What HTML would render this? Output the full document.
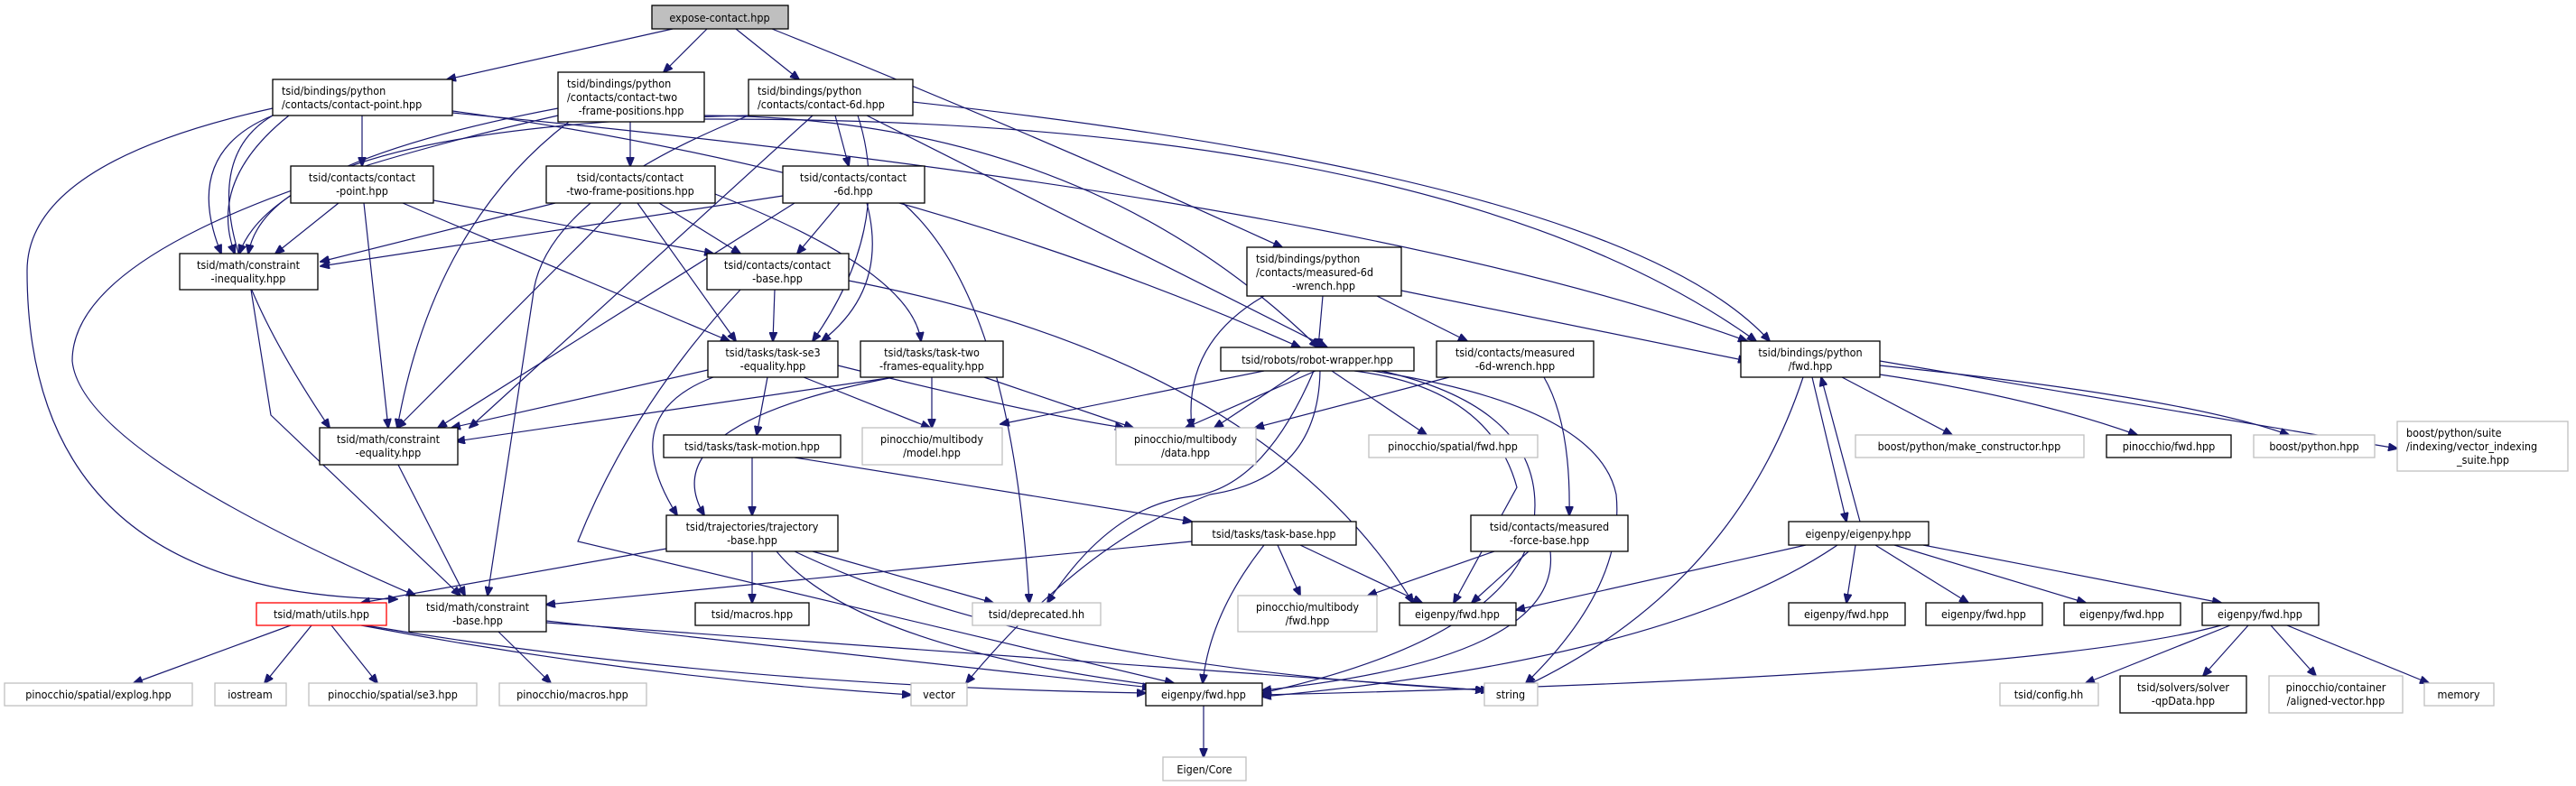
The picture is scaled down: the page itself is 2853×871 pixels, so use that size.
<!DOCTYPE html>
<html><head><meta charset="utf-8"><style>
html,body{margin:0;padding:0;background:#fff;}
svg{display:block;}
text{font-family:"DejaVu Sans Condensed","DejaVu Sans","Liberation Sans",sans-serif;font-size:12.5px;fill:#000;}
.e{fill:none;stroke:#191970;stroke-width:1.2;}
.n{fill:#fff;stroke:#000;stroke-width:1.3;}
.g{fill:#fff;stroke:#bfbfbf;stroke-width:1.3;}
.r{fill:#fff;stroke:#ff0000;stroke-width:1.3;}
</style></head><body>
<svg width="2853" height="871" viewBox="0 0 2853 871" xmlns="http://www.w3.org/2000/svg">
<defs><marker id="a" markerWidth="11" markerHeight="9" refX="10" refY="4.5" orient="auto" markerUnits="userSpaceOnUse"><path d="M0,0 L11,4.5 L0,9 z" fill="#191970" stroke="#191970"/></marker></defs>
<g marker-end="url(#a)">
<!-- expose -->
<path class="e" d="M745,32 L495,88"/>
<path class="e" d="M783,32 L735,80"/>
<path class="e" d="M815,32 L885,88"/>
<path class="e" d="M855,32 Q1150,150 1420,274"/>
<!-- bp contact-point -->
<path class="e" d="M401,128 L401,184"/>
<path class="e" d="M302,128 Q200,170 245,281"/>
<path class="e" d="M302,128 Q180,200 365,474"/>
<path class="e" d="M302,120 Q30,180 30,300 Q30,660 440,664"/>
<path class="e" d="M320,128 Q230,200 260,281"/>
<path class="e" d="M501,123 Q1000,190 1440,385"/>
<path class="e" d="M501,125 Q1500,220 1935,378"/>
<!-- bp two-frame -->
<path class="e" d="M698,135 L698,184"/>
<path class="e" d="M618,120 Q300,180 265,281"/>
<path class="e" d="M630,135 Q480,250 440,474"/>
<path class="e" d="M618,128 Q80,250 80,400 Q90,500 460,660"/>
<path class="e" d="M780,128 Q1200,130 1460,385"/>
<path class="e" d="M780,132 Q1600,130 1945,378"/>
<!-- bp 6d -->
<path class="e" d="M925,128 L940,184"/>
<path class="e" d="M829,128 Q600,220 590,330 L540,660"/>
<path class="e" d="M900,128 L520,474"/>
<path class="e" d="M950,128 Q990,250 900,378"/>
<path class="e" d="M829,128 Q300,140 275,281"/>
<path class="e" d="M960,128 Q1200,250 1470,385"/>
<path class="e" d="M1011,113 Q1800,200 1960,378"/>
<!-- contacts/contact-point -->
<path class="e" d="M375,225 L305,281"/>
<path class="e" d="M403,225 L430,474"/>
<path class="e" d="M480,222 L790,281"/>
<path class="e" d="M446,225 L808,378"/>
<!-- contacts two-frame -->
<path class="e" d="M615,225 L355,290"/>
<path class="e" d="M688,225 L440,474"/>
<path class="e" d="M730,225 L820,281"/>
<path class="e" d="M706,225 L815,378"/>
<path class="e" d="M792,215 Q1010,300 1020,378"/>
<!-- contacts 6d -->
<path class="e" d="M867,217 L355,295"/>
<path class="e" d="M880,225 L485,474"/>
<path class="e" d="M930,225 L883,281"/>
<path class="e" d="M960,225 Q985,320 910,378"/>
<path class="e" d="M1000,225 Q1120,330 1140,668"/>
<!-- inequality -->
<path class="e" d="M278,321 L300,460 L510,660"/>
<!-- equality -->
<path class="e" d="M441,515 L515,660"/>
<!-- contact base -->
<path class="e" d="M858,321 L856,378"/>
<path class="e" d="M820,321 Q700,450 640,600 L1300,757"/>
<path class="e" d="M940,311 Q1400,400 1565,668"/>
<!-- task-se3 -->
<path class="e" d="M784,410 L500,474"/>
<path class="e" d="M850,418 L838,482"/>
<path class="e" d="M790,418 Q680,460 750,571"/>
<path class="e" d="M928,405 Q1150,460 1245,474"/>
<path class="e" d="M890,418 L1030,474"/>
<!-- task-two -->
<path class="e" d="M990,418 L505,489"/>
<path class="e" d="M1032,418 L1032,474"/>
<path class="e" d="M990,418 Q720,470 780,571"/>
<path class="e" d="M1090,418 L1255,474"/>
<!-- robot wrapper -->
<path class="e" d="M1400,411 L1108,470"/>
<path class="e" d="M1440,411 L1345,474"/>
<path class="e" d="M1457,411 L1313,474"/>
<path class="e" d="M1475,411 L1580,482"/>
<path class="e" d="M1455,411 Q1400,540 1320,550 Q1230,560 1160,668"/>
<path class="e" d="M1462,411 Q1460,530 1340,548 Q1200,600 1070,757"/>
<path class="e" d="M1530,411 Q1700,450 1700,560 Q1700,700 1398,768"/>
<path class="e" d="M1520,411 Q1770,450 1790,548 Q1800,650 1690,757"/>
<path class="e" d="M1500,411 Q1650,430 1680,540 L1610,668"/>
<!-- bp measured -->
<path class="e" d="M1465,328 L1460,385"/>
<path class="e" d="M1525,328 L1625,378"/>
<path class="e" d="M1552,322 L1935,400"/>
<path class="e" d="M1400,328 Q1310,380 1320,474"/>
<!-- meas 6d wrench -->
<path class="e" d="M1605,418 L1390,474"/>
<path class="e" d="M1710,418 Q1740,470 1738,571"/>
<!-- mfb -->
<path class="e" d="M1655,611 L1515,660"/>
<path class="e" d="M1693,611 L1630,668"/>
<path class="e" d="M1717,611 Q1730,730 1398,765"/>
<!-- task motion -->
<path class="e" d="M833,507 L833,571"/>
<path class="e" d="M880,507 L1320,578"/>
<!-- trajectory -->
<path class="e" d="M738,608 L400,668"/>
<path class="e" d="M833,611 L833,668"/>
<path class="e" d="M900,611 L1100,668"/>
<path class="e" d="M860,611 Q950,720 1300,762"/>
<path class="e" d="M880,611 Q1150,740 1650,765"/>
<!-- task base -->
<path class="e" d="M1320,600 L605,670"/>
<path class="e" d="M1415,604 L1440,660"/>
<path class="e" d="M1440,604 L1575,668"/>
<path class="e" d="M1400,604 Q1340,680 1332,757"/>
<!-- utils -->
<path class="e" d="M322,693 L148,757"/>
<path class="e" d="M345,693 L293,757"/>
<path class="e" d="M367,693 L418,757"/>
<path class="e" d="M400,693 Q700,750 1009,770"/>
<path class="e" d="M405,693 Q800,760 1269,768"/>
<!-- cbase -->
<path class="e" d="M552,700 L610,757"/>
<path class="e" d="M605,688 L1275,762"/>
<path class="e" d="M605,690 L1644,765"/>
<!-- bp fwd -->
<path class="e" d="M2040,418 L2162,482"/>
<path class="e" d="M2082,415 Q2250,440 2367,482"/>
<path class="e" d="M2082,405 Q2420,440 2535,482"/>
<path class="e" d="M2082,400 L2655,497"/>
<path class="e" d="M2007,418 L2045,578"/>
<path class="e" d="M1997,418 Q1920,650 1690,760"/>
<!-- eigenpy.hpp -->
<path class="e" d="M2060,578 L2017,418"/>
<path class="e" d="M2055,604 L2045,668"/>
<path class="e" d="M2077,604 L2180,668"/>
<path class="e" d="M2098,604 L2310,668"/>
<path class="e" d="M2130,604 L2460,668"/>
<path class="e" d="M2000,604 L1679,676"/>
<path class="e" d="M2035,604 Q1850,730 1398,772"/>
<!-- last eigenpy fwd -->
<path class="e" d="M2470,693 L2310,757"/>
<path class="e" d="M2490,693 L2440,749"/>
<path class="e" d="M2515,693 L2565,749"/>
<path class="e" d="M2533,693 L2690,757"/>
<path class="e" d="M2460,693 Q2250,750 1398,770"/>
<!-- eigenpy fwd bottom -->
<path class="e" d="M1333,782 L1333,839"/>
</g>
<!-- nodes -->
<rect x="722" y="6" width="151" height="26" fill="#bfbfbf" stroke="#000" stroke-width="1.3"/><text x="797" y="24" text-anchor="middle">expose-contact.hpp</text>
<rect class="n" x="302" y="88" width="199" height="40"/><text x="312" y="105">tsid/bindings/python</text><text x="312" y="120">/contacts/contact-point.hpp</text>
<rect class="n" x="618" y="80" width="162" height="55"/><text x="628" y="97">tsid/bindings/python</text><text x="628" y="112">/contacts/contact-two</text><text x="699" y="127" text-anchor="middle">-frame-positions.hpp</text>
<rect class="n" x="829" y="88" width="182" height="40"/><text x="839" y="105">tsid/bindings/python</text><text x="839" y="120">/contacts/contact-6d.hpp</text>
<rect class="n" x="322" y="184" width="158" height="41"/><text x="401" y="201" text-anchor="middle">tsid/contacts/contact</text><text x="401" y="216" text-anchor="middle">-point.hpp</text>
<rect class="n" x="605" y="184" width="187" height="41"/><text x="698" y="201" text-anchor="middle">tsid/contacts/contact</text><text x="698" y="216" text-anchor="middle">-two-frame-positions.hpp</text>
<rect class="n" x="867" y="184" width="157" height="41"/><text x="945" y="201" text-anchor="middle">tsid/contacts/contact</text><text x="945" y="216" text-anchor="middle">-6d.hpp</text>
<rect class="n" x="199" y="281" width="153" height="40"/><text x="275" y="298" text-anchor="middle">tsid/math/constraint</text><text x="275" y="313" text-anchor="middle">-inequality.hpp</text>
<rect class="n" x="783" y="281" width="157" height="40"/><text x="861" y="298" text-anchor="middle">tsid/contacts/contact</text><text x="861" y="313" text-anchor="middle">-base.hpp</text>
<rect class="n" x="1381" y="274" width="171" height="54"/><text x="1391" y="291">tsid/bindings/python</text><text x="1391" y="306">/contacts/measured-6d</text><text x="1466" y="321" text-anchor="middle">-wrench.hpp</text>
<rect class="n" x="784" y="378" width="144" height="40"/><text x="856" y="395" text-anchor="middle">tsid/tasks/task-se3</text><text x="856" y="410" text-anchor="middle">-equality.hpp</text>
<rect class="n" x="953" y="378" width="158" height="40"/><text x="1032" y="395" text-anchor="middle">tsid/tasks/task-two</text><text x="1032" y="410" text-anchor="middle">-frames-equality.hpp</text>
<rect class="n" x="1352" y="385" width="214" height="26"/><text x="1459" y="403" text-anchor="middle">tsid/robots/robot-wrapper.hpp</text>
<rect class="n" x="1591" y="378" width="174" height="40"/><text x="1678" y="395" text-anchor="middle">tsid/contacts/measured</text><text x="1678" y="410" text-anchor="middle">-6d-wrench.hpp</text>
<rect class="n" x="1928" y="378" width="154" height="40"/><text x="2005" y="395" text-anchor="middle">tsid/bindings/python</text><text x="2005" y="410" text-anchor="middle">/fwd.hpp</text>
<rect class="n" x="354" y="474" width="153" height="41"/><text x="430" y="491" text-anchor="middle">tsid/math/constraint</text><text x="430" y="506" text-anchor="middle">-equality.hpp</text>
<rect class="g" x="955" y="474" width="155" height="41"/><text x="1032" y="491" text-anchor="middle">pinocchio/multibody</text><text x="1032" y="506" text-anchor="middle">/model.hpp</text>
<rect class="g" x="1236" y="474" width="155" height="41"/><text x="1313" y="491" text-anchor="middle">pinocchio/multibody</text><text x="1313" y="506" text-anchor="middle">/data.hpp</text>
<rect class="n" x="735" y="482" width="196" height="25"/><text x="833" y="499" text-anchor="middle">tsid/tasks/task-motion.hpp</text>
<rect class="g" x="1516" y="482" width="187" height="25"/><text x="1609" y="499" text-anchor="middle">pinocchio/spatial/fwd.hpp</text>
<rect class="g" x="2055" y="482" width="253" height="25"/><text x="2181" y="499" text-anchor="middle">boost/python/make_constructor.hpp</text>
<rect class="n" x="2333" y="482" width="138" height="25"/><text x="2402" y="499" text-anchor="middle">pinocchio/fwd.hpp</text>
<rect class="g" x="2496" y="482" width="134" height="25"/><text x="2563" y="499" text-anchor="middle">boost/python.hpp</text>
<rect class="g" x="2655" y="467" width="189" height="55"/><text x="2665" y="484">boost/python/suite</text><text x="2665" y="499">/indexing/vector_indexing</text><text x="2750" y="514" text-anchor="middle">_suite.hpp</text>
<rect class="n" x="738" y="571" width="190" height="40"/><text x="833" y="588" text-anchor="middle">tsid/trajectories/trajectory</text><text x="833" y="603" text-anchor="middle">-base.hpp</text>
<rect class="n" x="1320" y="578" width="182" height="26"/><text x="1411" y="596" text-anchor="middle">tsid/tasks/task-base.hpp</text>
<rect class="n" x="1629" y="571" width="174" height="40"/><text x="1716" y="588" text-anchor="middle">tsid/contacts/measured</text><text x="1716" y="603" text-anchor="middle">-force-base.hpp</text>
<rect class="n" x="1981" y="578" width="155" height="26"/><text x="2058" y="596" text-anchor="middle">eigenpy/eigenpy.hpp</text>
<rect class="r" x="284" y="668" width="144" height="25"/><text x="356" y="685" text-anchor="middle">tsid/math/utils.hpp</text>
<rect class="n" x="453" y="660" width="152" height="40"/><text x="529" y="677" text-anchor="middle">tsid/math/constraint</text><text x="529" y="692" text-anchor="middle">-base.hpp</text>
<rect class="n" x="770" y="668" width="126" height="25"/><text x="833" y="685" text-anchor="middle">tsid/macros.hpp</text>
<rect class="g" x="1077" y="668" width="142" height="25"/><text x="1148" y="685" text-anchor="middle">tsid/deprecated.hh</text>
<rect class="g" x="1371" y="660" width="154" height="40"/><text x="1448" y="677" text-anchor="middle">pinocchio/multibody</text><text x="1448" y="692" text-anchor="middle">/fwd.hpp</text>
<rect class="n" x="1550" y="668" width="129" height="25"/><text x="1614" y="685" text-anchor="middle">eigenpy/fwd.hpp</text>
<rect class="n" x="1981" y="668" width="129" height="25"/><text x="2045" y="685" text-anchor="middle">eigenpy/fwd.hpp</text>
<rect class="n" x="2133" y="668" width="129" height="25"/><text x="2197" y="685" text-anchor="middle">eigenpy/fwd.hpp</text>
<rect class="n" x="2286" y="668" width="129" height="25"/><text x="2350" y="685" text-anchor="middle">eigenpy/fwd.hpp</text>
<rect class="n" x="2439" y="668" width="129" height="25"/><text x="2503" y="685" text-anchor="middle">eigenpy/fwd.hpp</text>
<rect class="g" x="5" y="757" width="208" height="25"/><text x="109" y="774" text-anchor="middle">pinocchio/spatial/explog.hpp</text>
<rect class="g" x="238" y="757" width="79" height="25"/><text x="277" y="774" text-anchor="middle">iostream</text>
<rect class="g" x="342" y="757" width="186" height="25"/><text x="435" y="774" text-anchor="middle">pinocchio/spatial/se3.hpp</text>
<rect class="g" x="553" y="757" width="163" height="25"/><text x="634" y="774" text-anchor="middle">pinocchio/macros.hpp</text>
<rect class="g" x="1009" y="757" width="62" height="25"/><text x="1040" y="774" text-anchor="middle">vector</text>
<rect class="n" x="1269" y="757" width="129" height="25"/><text x="1333" y="774" text-anchor="middle">eigenpy/fwd.hpp</text>
<rect class="g" x="1644" y="757" width="59" height="25"/><text x="1673" y="774" text-anchor="middle">string</text>
<rect class="g" x="2215" y="757" width="109" height="25"/><text x="2269" y="774" text-anchor="middle">tsid/config.hh</text>
<rect class="n" x="2348" y="749" width="140" height="41"/><text x="2418" y="766" text-anchor="middle">tsid/solvers/solver</text><text x="2418" y="781" text-anchor="middle">-qpData.hpp</text>
<rect class="g" x="2513" y="749" width="148" height="41"/><text x="2587" y="766" text-anchor="middle">pinocchio/container</text><text x="2587" y="781" text-anchor="middle">/aligned-vector.hpp</text>
<rect class="g" x="2685" y="757" width="77" height="25"/><text x="2723" y="774" text-anchor="middle">memory</text>
<rect class="g" x="1288" y="839" width="92" height="26"/><text x="1334" y="857" text-anchor="middle">Eigen/Core</text>
</svg>
</body></html>
